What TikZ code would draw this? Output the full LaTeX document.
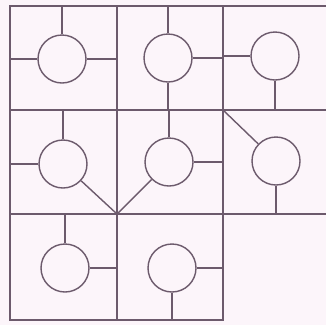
\documentclass[tikz,border=0pt]{standalone}
\definecolor{ink}{HTML}{6C5A6C}
\definecolor{paper}{HTML}{FCF5FA}
\begin{document}
\begin{tikzpicture}[x=1pt,y=-1pt,
  wall/.style={draw=ink, line width=1.4pt},
  spoke/.style={draw=ink, line width=1.4pt},
  ring/.style={circle, draw=ink, line width=1.4pt, minimum size=48pt, inner sep=0pt}]
\fill[paper] (0,0) rectangle (326,325);
\useasboundingbox (0,0) rectangle (326,325);
% grid points
\coordinate (tl) at (10,6);
\coordinate (tr) at (326,6);
\coordinate (m1l) at (10,110);
\coordinate (m1r) at (326,110);
\coordinate (m2l) at (10,214);
\coordinate (m2r) at (326,214);
\coordinate (bl) at (10,320);
\coordinate (br) at (223,320);
\coordinate (v2t) at (117,6);
\coordinate (v2b) at (117,320);
\coordinate (v3t) at (223,6);
\coordinate (hub) at (117,214);
\coordinate (corner) at (223,110);
% walls
\draw[wall] (tr) -- (tl) -- (bl) -- (br) -- (v3t);
\draw[wall] (v2t) -- (v2b);
\draw[wall] (m1l) -- (m1r);
\draw[wall] (m2l) -- (m2r);
% circles
\node[ring] (c1) at (62,59) {};
\node[ring] (c2) at (168,58) {};
\node[ring] (c3) at (275,56) {};
\node[ring] (c4) at (63,164) {};
\node[ring] (c5) at (169,162) {};
\node[ring] (c6) at (276,161) {};
\node[ring] (c7) at (65,268) {};
\node[ring] (c8) at (172,268) {};
% spokes
\draw[spoke] (c1.north) -- (c1.north |- tl);
\draw[spoke] (c1.west) -- (c1.west -| tl);
\draw[spoke] (c1.east) -- (c1.east -| v2t);
\draw[spoke] (c2.north) -- (c2.north |- tl);
\draw[spoke] (c2.south) -- (c2.south |- m1l);
\draw[spoke] (c2.east) -- (c2.east -| v3t);
\draw[spoke] (c3.west) -- (c3.west -| v3t);
\draw[spoke] (c3.south) -- (c3.south |- m1l);
\draw[spoke] (c4.north) -- (c4.north |- m1l);
\draw[spoke] (c4.west) -- (c4.west -| tl);
\draw[spoke] (c4) -- (hub);
\draw[spoke] (c5.north) -- (c5.north |- m1l);
\draw[spoke] (c5.east) -- (c5.east -| v3t);
\draw[spoke] (c5) -- (hub);
\draw[spoke] (corner) -- (c6);
\draw[spoke] (c6.south) -- (c6.south |- m2l);
\draw[spoke] (c7.north) -- (c7.north |- m2l);
\draw[spoke] (c7.east) -- (c7.east -| v2t);
\draw[spoke] (c8.east) -- (c8.east -| v3t);
\draw[spoke] (c8.south) -- (c8.south |- bl);
\end{tikzpicture}
\end{document}
